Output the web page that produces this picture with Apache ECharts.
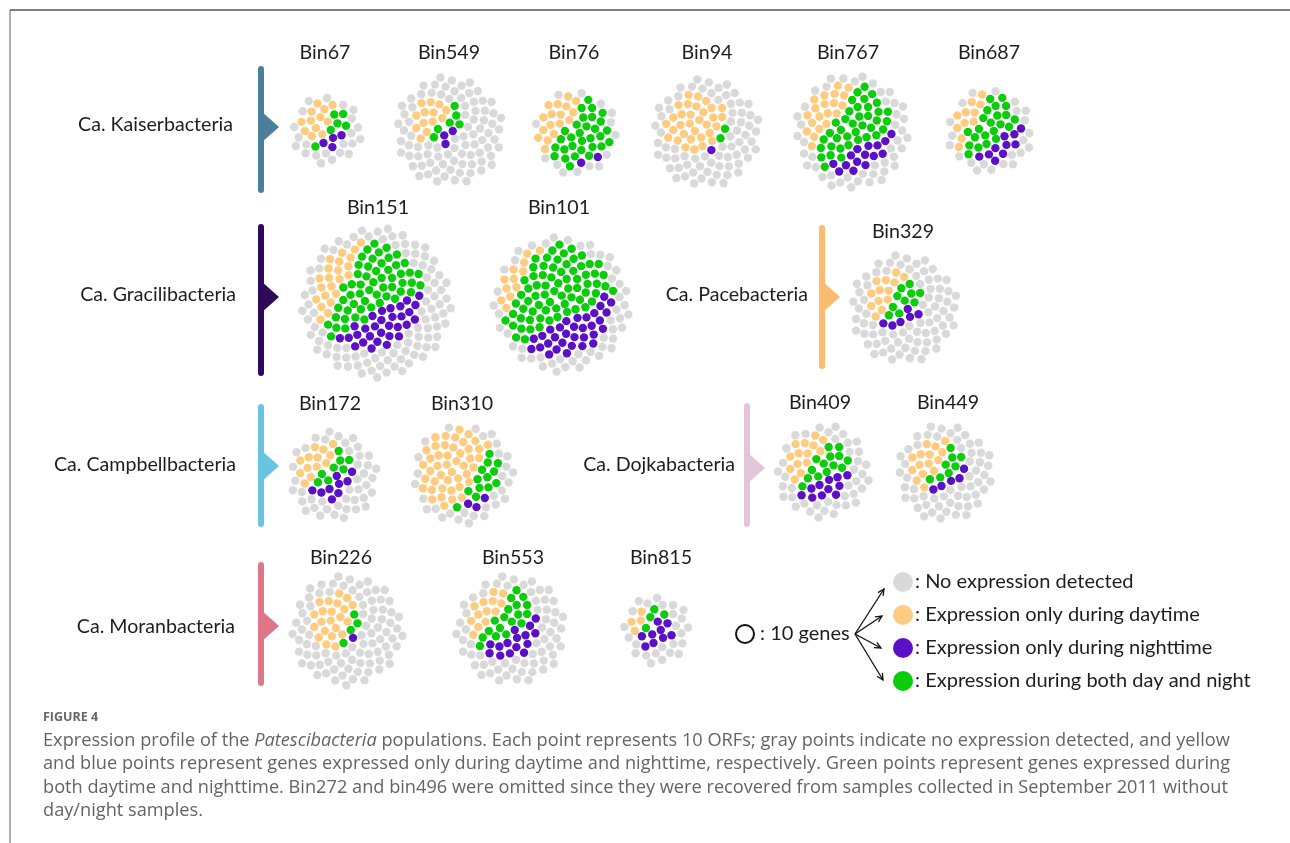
<!DOCTYPE html>
<html><head><meta charset="utf-8">
<script src="https://cdn.jsdelivr.net/npm/echarts@6/dist/echarts.min.js"></script>
<style>html,body{margin:0;padding:0;background:#fff}#c{width:1290px;height:843px}</style>
</head><body><div id="c"></div>
<script>
// ---------------- data (dot counts, each dot = 10 ORFs) ----------------
const bins = ['Bin67','Bin549','Bin76','Bin94','Bin767','Bin687','Bin151','Bin101','Bin329','Bin172','Bin310','Bin409','Bin449','Bin226','Bin553','Bin815'];
const grayCounts   = [22, 84, 14, 70, 45, 22, 95, 50, 76, 42, 30, 40, 56, 85, 62, 25];
const yellowCounts = [12, 13, 17, 32, 20, 11, 22, 12, 13, 13, 45, 14, 15, 22, 13,  4];
const purpleCounts = [ 4,  3,  2,  1, 15, 10, 30, 32,  6,  9,  3, 11,  5,  1, 15,  9];
const greenCounts  = [ 6,  6, 30,  2, 38, 22, 55, 72, 10,  8, 13, 14,  8,  4, 18,  4];
const groupNames = ['Ca. Kaiserbacteria','Ca. Gracilibacteria','Ca. Pacebacteria','Ca. Campbellbacteria','Ca. Dojkabacteria','Ca. Moranbacteria'];
const legendLabels = [': No expression detected', ': Expression only during daytime', ': Expression only during nighttime', ': Expression during both day and night'];
const unitLabel = ': 10 genes';
const figureLabel = 'FIGURE 4';
const captionLines = [
  'Expression profile of the {i|Patescibacteria} populations. Each point represents 10 ORFs; gray points indicate no expression detected, and yellow',
  'and blue points represent genes expressed only during daytime and nighttime, respectively. Green points represent genes expressed during',
  'both daytime and nighttime. Bin272 and bin496 were omitted since they were recovered from samples collected in September 2011 without',
  'day/night samples.'
];

// ---------------- layout (positions / styles) ----------------
const binLayout = [ // cluster centre x,y ; label x,y
  [327,130,325,53],[449,131,449,53],[576,133,574,53],[706,133,707,53],[852,132,848,53],[990,131,989,53],
  [376,303,378,208],[561,304,559,208],[904,309,903,232],
  [333,476,330,404],[463,474,462,404],[823,472,820,403],[945,473,948,403],
  [347,630,341,558],[511,630,513,558],[657,630,661,558]
];
const groupLayout = [ // barX, y0, y1, triangleY, labelRightX, labelY, colour
  [261, 66,193,127,233,125,'#4b809b'],
  [261,224,376,297,236,295,'#2e0b59'],
  [822,225,369,297,808,295,'#fdbb70'],
  [261,404,527,466,236,465,'#68c4e0'],
  [747,403,527,468,735,465,'#e3c5da'],
  [261,562,686,626,235,627,'#df7688']
];
const COLORS = {gray:'#d9d9d9', yellow:'#fecc80', purple:'#5b10c8', green:'#0ccc0c'};
const C_SPREAD = 5.3;           // sunflower packing constant
const GOLDEN = Math.PI*(3-Math.sqrt(5));

function packing(n){
  const pts=[];
  for(let i=0;i<n;i++){
    const r=C_SPREAD*Math.sqrt(i+0.5), t=i*GOLDEN;
    pts.push([r*Math.cos(t), r*Math.sin(t)]);
  }
  return pts;
}

const seriesData = {gray:[],yellow:[],purple:[],green:[]};
bins.forEach((b,k)=>{
  const Y=yellowCounts[k], G=greenCounts[k], P=purpleCounts[k], Gr=grayCounts[k];
  const C=Y+G+P, N=C+Gr;
  const pts=packing(N);
  const R=C_SPREAD*Math.sqrt(N), Rc=C_SPREAD*Math.sqrt(C);
  const off=(R-Rc)*0.5;
  const ox=-off*0.75, oy=-off*0.66;
  const idx=pts.map((p,i)=>i);
  const d2=i=>(pts[i][0]-ox)**2+(pts[i][1]-oy)**2;
  idx.sort((a,b)=>d2(a)-d2(b)||a-b);
  const colored=idx.slice(0,C);
  const gray=idx.slice(C);
  const proj=(i,u)=>pts[i][0]*u[0]+pts[i][1]*u[1];
  const uy=[0.86,0.5], up=[0.5,0.87];
  colored.sort((a,b)=>proj(a,uy)-proj(b,uy));
  const yellow=colored.slice(0,Y);
  const rest=colored.slice(Y);
  rest.sort((a,b)=>proj(b,up)-proj(a,up));
  const purple=rest.slice(0,P), green=rest.slice(P);
  const [cx,cy]=binLayout[k];
  const push=(arr,key)=>arr.forEach(i=>seriesData[key].push([cx+pts[i][0],cy+pts[i][1],b]));
  push(gray,'gray');push(yellow,'yellow');push(purple,'purple');push(green,'green');
});

// ---------------- font fitting ----------------
const ctx=document.createElement('canvas').getContext('2d');
function fit(text,family,target,weight){
  ctx.font=(weight||'normal')+' 20px '+family;
  return 20*target/ctx.measureText(text).width;
}
const FONT='Lato', CAPFONT='"Open Sans"';
const LABEL_SIZE=fit('Ca. Kaiserbacteria',FONT,155);
const LEG_SIZE=fit(': Expression during both day and night',FONT,336);
const CAP_SIZE=fit(captionLines[0].replace('{i|','').replace('}',''),CAPFONT,1194);

// ---------------- graphic decorations ----------------
const g=[];
g.push({type:'line',shape:{x1:10,y1:10,x2:1290,y2:10},style:{stroke:'#555',lineWidth:1.5}});
g.push({type:'line',shape:{x1:10,y1:10,x2:10,y2:843},style:{stroke:'#777',lineWidth:1.2}});
function txt(x,y,text,size,align,color,family,extra){
  return {type:'text',x:x,y:y,style:Object.assign({text:text,font:size+'px '+family,fontSize:size,fontFamily:family,fill:color||'#222',
    textAlign:align,align:align,textVerticalAlign:'middle',verticalAlign:'middle'},extra||{})};
}
bins.forEach((b,k)=>{ g.push(txt(binLayout[k][2],binLayout[k][3],b,LABEL_SIZE,'center','#1e1e1e',FONT)); });
groupNames.forEach((name,k)=>{
  const [bx,y0,y1,ty,lx,ly,col]=groupLayout[k];
  g.push({type:'rect',shape:{x:bx-3,y:y0,width:6,height:y1-y0,r:3},style:{fill:col}});
  g.push({type:'polygon',shape:{points:[[bx,ty-16],[bx+18,ty],[bx,ty+16]]},style:{fill:col}});
  g.push(txt(lx,ly,name,LABEL_SIZE,'right','#1e1e1e',FONT));
});
// legend
g.push({type:'circle',shape:{cx:745,cy:634,r:9},style:{fill:'none',stroke:'#111',lineWidth:2}});
g.push(txt(760,634,unitLabel,LEG_SIZE,'left','#1e1e1e',FONT));
const legendY=[582,615,648,681];
const legendCols=[COLORS.gray,COLORS.yellow,COLORS.purple,COLORS.green];
const ends=[[884,589],[882,616],[881,648],[883,680]];
ends.forEach(([ex,ey])=>{
  const sx=855, sy=634;
  g.push({type:'line',shape:{x1:sx,y1:sy,x2:ex,y2:ey},style:{stroke:'#111',lineWidth:1.3}});
  const a=Math.atan2(ey-sy,ex-sx), L=7, w=0.45;
  g.push({type:'polyline',shape:{points:[[ex-L*Math.cos(a-w),ey-L*Math.sin(a-w)],[ex,ey],[ex-L*Math.cos(a+w),ey-L*Math.sin(a+w)]]},style:{stroke:'#111',lineWidth:1.3,fill:'none'}});
});
legendLabels.forEach((l,k)=>{
  g.push({type:'circle',shape:{cx:903,cy:legendY[k],r:10},style:{fill:legendCols[k]}});
  g.push(txt(915,legendY[k],l,LEG_SIZE,'left','#1e1e1e',FONT));
});
// caption
g.push(txt(43,717,figureLabel,12.5,'left','#666',CAPFONT,{fontWeight:'bold',font:'600 12.5px '+CAPFONT}));
captionLines.forEach((line,k)=>{
  g.push(txt(43,741+k*23.3,line,CAP_SIZE,'left','#646464',CAPFONT,{rich:{i:{fontStyle:'italic',fontSize:CAP_SIZE,fontFamily:CAPFONT,fill:'#646464',color:'#646464'}}}));
});

const chart=echarts.init(document.getElementById('c'));
const mk=(key)=>({type:'scatter',name:key,data:seriesData[key],symbol:'circle',symbolSize:8.4,itemStyle:{color:COLORS[key],opacity:1},silent:true,animation:false});
chart.setOption({
  animation:false,
  grid:{left:0,right:0,top:0,bottom:0},
  xAxis:{type:'value',min:0,max:1290,show:false},
  yAxis:{type:'value',min:0,max:843,inverse:true,show:false},
  series:[mk('gray'),mk('yellow'),mk('purple'),mk('green')],
  graphic:{elements:g}
});
</script></body></html>
